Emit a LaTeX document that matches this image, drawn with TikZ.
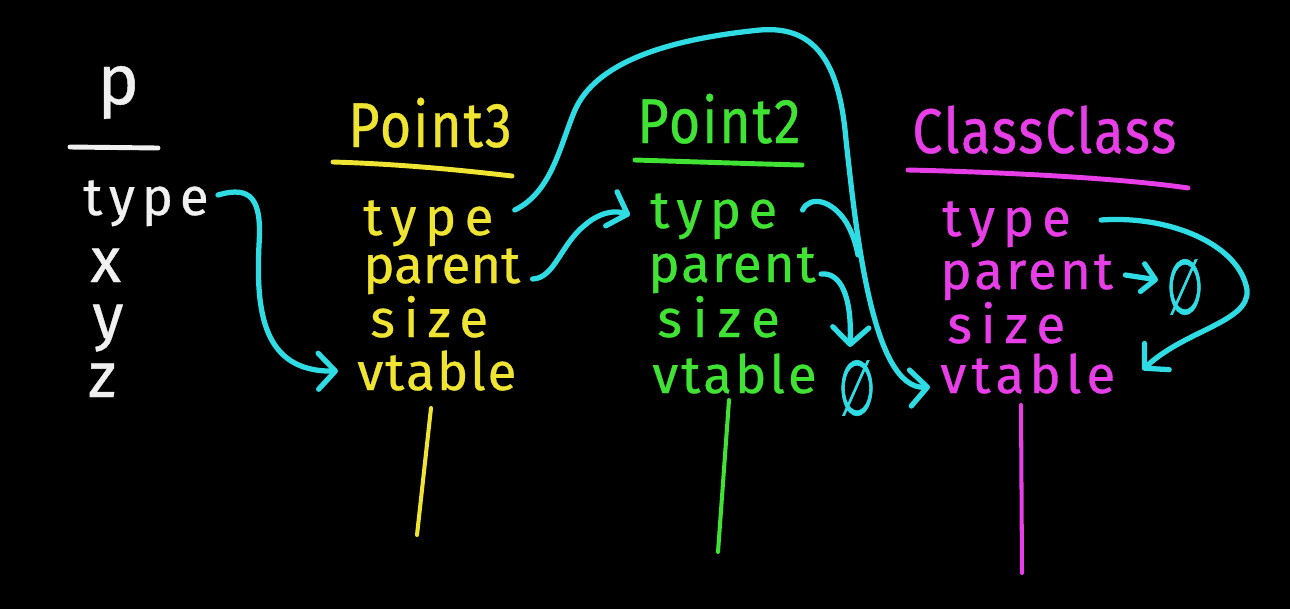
\documentclass[tikz,border=0pt]{standalone}
\usepackage{fontspec}
\setmainfont{Fira Sans}
\newfontfamily\emptysetfont{DejaVu Sans}
\usetikzlibrary{arrows.meta,calc}
\definecolor{cy}{RGB}{48,220,228}
\definecolor{yl}{RGB}{240,228,50}
\definecolor{gr}{RGB}{64,226,52}
\definecolor{mg}{RGB}{232,62,232}
\definecolor{wh}{RGB}{240,240,240}
\begin{document}
\begin{tikzpicture}[x=0.02cm,y=-0.02cm,
  lbl/.style={anchor=base west, inner sep=0pt, font=\fontsize{30}{36}\selectfont\addfontfeature{LetterSpace=#1,FakeBold=0.6}},
  lbl/.default=5,
  big/.style={anchor=base west, inner sep=0pt, font=\fontsize{36}{40}\selectfont\addfontfeature{FakeBold=0.6}},
  ttl/.style={anchor=base west, inner sep=0pt, font=\fontsize{36}{40}\selectfont\addfontfeature{FakeStretch=0.85,LetterSpace=#1,FakeBold=0.6}},
  ttl/.default=3,
  nullsym/.style={inner sep=0pt, text=cy, font=\emptysetfont\fontsize{44}{48}\selectfont\addfontfeature{FakeStretch=0.55,FakeBold=0.8}},
  uline/.style={line width=2.8pt, line cap=round},
  stem/.style={line width=2.3pt, line cap=round},
  link/.style={cy, line width=3pt, line cap=round, line join=round},
  arr/.style={link, -{Straight Barb[length=0.34cm, width=0.72cm, line cap=round, line join=round]}},
  sarr/.style={link, -{Straight Barb[length=0.26cm, width=0.56cm, line cap=round, line join=round]}}]
\fill[black] (0,0) rectangle (1290,609);
\useasboundingbox (0,0) rectangle (1290,609);

% --- p (white) ---
\node[big, text=wh, font=\fontsize{40}{44}\selectfont\addfontfeature{FakeBold=0.6}] (wp) at (97,104) {p};
\draw[uline, wh] (70,147) -- (158,148);
\node[lbl=13, text=wh] (wtype) at (83,215) {type};
\node[big, text=wh] (wx) at (90,282) {x};
\node[big, text=wh] (wy) at (92,338) {y};
\node[big, text=wh] (wz) at (88,397) {z};

% --- Point3 (yellow) ---
\node[ttl, text=yl] (ytitle) at (348,147) {Point3};
\draw[uline, yl] (333,162) .. controls (400,164) and (460,170) .. (512,176);
\node[lbl=16, text=yl] (ytype) at (363,235) {type};
\node[lbl=0, text=yl] (yparent) at (363,283) {parent};
\node[lbl=17, text=yl] (ysize) at (370,337) {size};
\node[lbl=4, text=yl] (yvtable) at (357,390) {vtable};
\draw[stem, yl] (431,408) -- (417,535);

% --- Point2 (green) ---
\node[ttl, text=gr] (gtitle) at (637,143) {Point2};
\draw[uline, gr] (635,160) .. controls (700,162) and (760,164) .. (802,165);
\node[lbl=14, text=gr] (gtype) at (650,228) {type};
\node[lbl=4, text=gr] (gparent) at (648,282) {parent};
\node[lbl=20, text=gr] (gsize) at (657,337) {size};
\node[lbl=6, text=gr] (gvtable) at (652,393) {vtable};
\node[nullsym] (gnull) at (857,388) {∅};
\draw[stem, gr] (729,400) -- (718,552);

% --- ClassClass (magenta) ---
\node[ttl, text=mg] (mtitle) at (912,153) {ClassClass};
\draw[uline, mg] (908,170) .. controls (1000,172) and (1120,178) .. (1188,188);
\node[lbl=15, text=mg] (mtype) at (942,236) {type};
\node[lbl=6, text=mg] (mparent) at (940,289) {parent};
\node[lbl=17, text=mg] (msize) at (947,343) {size};
\node[lbl=10, text=mg] (mvtable) at (940,393) {vtable};
\node[nullsym] (mnull) at (1185,287) {∅};
\draw[stem, mg] (1021,405) -- (1022,573);

% --- cyan connectors ---
\draw[arr] ($(wtype.base east)+(9,-20)$)
  .. controls (252,185) and (262,200) .. (259,245)
  .. controls (256,310) and (262,372) .. ($(yvtable.base west)+(-19,-19)$);

\draw[arr] ($(ytype.base east)+(21,-25)$)
  .. controls (552,192) and (560,145) .. (575,110)
  .. controls (595,65) and (660,40) .. (760,30)
  .. controls (820,25) and (840,70) .. (846,140)
  .. controls (856,230) and (872,390) .. ($(mvtable.base west)+(-10,-6)$);

\coordinate (merge) at (858,255);
\draw[link] ($(gtype.base east)+(25,-18)$)
  .. controls (810,195) and (832,200) .. (846,222)
  .. controls (852,232) and (856,244) .. (merge);

\draw[arr] ($(yparent.base east)+(12,-4)$)
  .. controls (555,278) and (560,245) .. (585,225)
  .. controls (600,212) and (615,210) .. ($(gtype.base west)+(-20,-13)$);

\draw[arr] ($(gparent.base east)+(5,-8)$)
  .. controls (840,272) and (852,295) .. ($(gnull.center)+(-7,-41)$);

\draw[arr] ($(mtype.base east)+(30,-16)$)
  .. controls (1170,215) and (1240,245) .. (1247,290)
  .. controls (1250,322) and (1185,330) .. ($(mvtable.base east)+(27,-23)$);

\draw[sarr] ($(mparent.base east)+(12,-14)$) -- ($(mnull.center)+(-27,-7)$);
\end{tikzpicture}
\end{document}
